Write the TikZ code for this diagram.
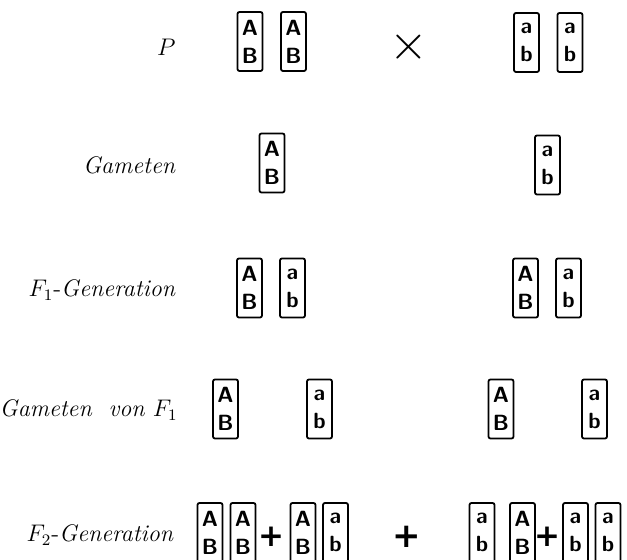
\documentclass[tikz,border=0pt]{standalone}
\usepackage{fontspec}
\newfontfamily\plusfont{DejaVu Sans}
\usepackage{tikz}
\usetikzlibrary{positioning}
\newcommand{\chromAB}{A\\B}
\newcommand{\chromab}{a\\b}

\begin{document}
\begin{tikzpicture}[x=0.5pt, y=-0.5pt,
    every node/.style={inner sep=1pt},
    gen/.style={anchor=east, font=\fontsize{12}{14}\selectfont},
    chrom/.style={draw, line width=0.9pt, rounded corners=1pt,
                  minimum width=12.5pt, minimum height=29.5pt, inner sep=0pt,
                  align=center, font=\fontsize{11}{14}\sffamily\bfseries\selectfont},
    plus/.style={inner sep=0pt, font=\fontsize{15.5}{15.5}\plusfont\bfseries\selectfont},
    bigplus/.style={inner sep=0pt, font=\fontsize{17}{17}\plusfont\bfseries\selectfont}]
  \useasboundingbox (0,0) rectangle (627,560);
  % P
  \node[gen] (lP) at (178,47) {$P$};
  \node[chrom] (pA1) at (250,41.5) {\chromAB};
  \node[chrom] (pA2) at (293.5,41.5) {\chromAB};
  \node[font=\fontsize{24}{24}\selectfont] (cross) at (409,47) {$\times$};
  \node[chrom] (pa1) at (526.5,42.5) {\chromab};
  \node[chrom] (pa2) at (570,42.5) {\chromab};
  % Gameten
  \node[gen] (lG) at (178,165) {\textit{Gameten}};
  \node[chrom] (gA) at (272,163) {\chromAB};
  \node[chrom] (ga) at (547.5,165) {\chromab};
  % F1
  \node[gen] (lF1) at (178,290) {$F_1$-\textit{Generation}};
  \node[chrom] (fA1) at (249.5,288) {\chromAB};
  \node[chrom] (fa1) at (292.5,288) {\chromab};
  \node[chrom] (fA2) at (525.5,288) {\chromAB};
  \node[chrom] (fa2) at (568.5,288) {\chromab};
  % Gameten von F1
  \node[gen] (lGF) at (180,410) {\textit{Gameten\ \ von}\ $F_1$};
  \node[chrom] (gfA1) at (225.5,409) {\chromAB};
  \node[chrom] (gfa1) at (319.5,409) {\chromab};
  \node[chrom] (gfA2) at (501,409) {\chromAB};
  \node[chrom] (gfa2) at (594.5,409) {\chromab};
  % F2
  \node[gen] (lF2) at (176,535) {$F_2$-\textit{Generation}};
  \node[chrom] (sA1) at (210,532.5) {\chromAB};
  \node[chrom] (sA2) at (243,532.5) {\chromAB};
  \node[plus] (pl1) at (271,537) {+};
  \node[chrom] (sA3) at (303,532.5) {\chromAB};
  \node[chrom] (sa1) at (335.5,532.5) {\chromab};
  \node[bigplus] (pl2) at (407,537) {+};
  \node[chrom] (sa2) at (482,532.5) {\chromab};
  \node[chrom] (sA4) at (522.5,532.5) {\chromAB};
  \node[plus] (pl3) at (547,537) {+};
  \node[chrom] (sa3) at (575.5,532.5) {\chromab};
  \node[chrom] (sa4) at (608,532.5) {\chromab};
\end{tikzpicture}
\end{document}
